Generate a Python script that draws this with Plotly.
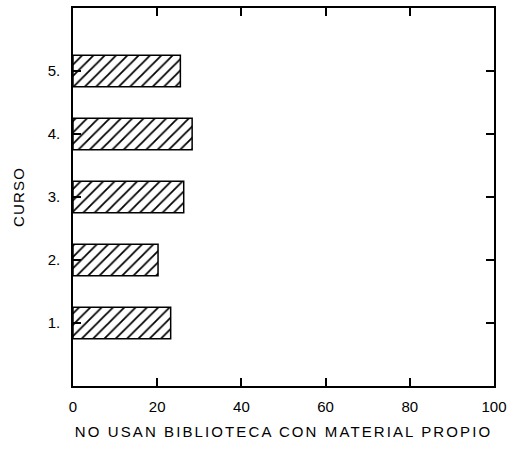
import plotly.graph_objects as go

# Course levels and share of students (%) who don't use the library
cursos = [1, 2, 3, 4, 5]
curso_labels = ["1.", "2.", "3.", "4.", "5."]
porcentaje = [23.2, 20.2, 26.3, 28.3, 25.5]
x_ticks = [0, 20, 40, 60, 80, 100]

fig = go.Figure(
    go.Bar(
        x=porcentaje,
        y=cursos,
        orientation="h",
        width=0.5,
        marker=dict(
            color="white",
            line=dict(color="black", width=1.5),
            pattern=dict(shape="/", size=8, solidity=0.22,
                         fgcolor="black", fgopacity=1, bgcolor="white"),
        ),
    )
)

font = dict(family="Liberation Sans, Arial, sans-serif", size=15, color="black")


def spaced(text, px):
    return f'<span style="letter-spacing:{px}px">{text}</span>'


fig.update_layout(
    width=515,
    height=453,
    margin=dict(l=73, r=21, t=6, b=67),
    paper_bgcolor="white",
    plot_bgcolor="white",
    showlegend=False,
    font=font,
    xaxis=dict(
        range=[0, 100],
        tickvals=x_ticks,
        ticktext=[str(v) for v in x_ticks],
        ticks="inside",
        ticklen=8,
        tickwidth=1.5,
        tickcolor="black",
        showline=True,
        linecolor="black",
        linewidth=1.5,
        mirror="ticks",
        showgrid=False,
        zeroline=False,
        title=dict(text=spaced("NO USAN BIBLIOTECA CON MATERIAL PROPIO", 2.1),
                   font=dict(size=15), standoff=13),
        ticklabelstandoff=6,
    ),
    yaxis=dict(
        range=[0, 6],
        tickvals=cursos,
        ticktext=curso_labels,
        ticks="inside",
        ticklen=8,
        tickwidth=1.5,
        tickcolor="black",
        showline=True,
        linecolor="black",
        linewidth=1.5,
        mirror="ticks",
        showgrid=False,
        zeroline=False,
        title=dict(text=spaced("CURSO", 1.2), font=dict(size=15), standoff=19),
        ticklabelstandoff=8,
    ),
)

fig.write_html("out.html")
